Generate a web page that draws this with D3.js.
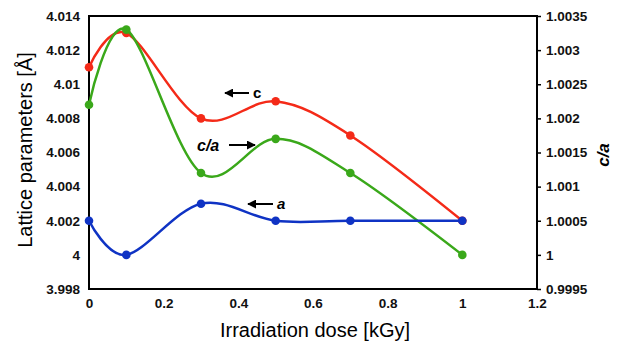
<!DOCTYPE html>
<html>
<head>
<meta charset="utf-8">
<script src="https://cdn.jsdelivr.net/npm/d3@7"></script>
<style>
  body { margin: 0; background: #fff; }
  text { font-family: "Liberation Sans", Arial, sans-serif; }
</style>
</head>
<body>
<div id="chart"></div>
<script>
// data
const dose = [0, 0.1, 0.3, 0.5, 0.7, 1];
const cValues = [4.011, 4.013, 4.008, 4.009, 4.007, 4.002];
const aValues = [4.002, 4.000, 4.003, 4.002, 4.002, 4.002];
const caValues = [1.0022, 1.0033, 1.0012, 1.0017, 1.0012, 1.0000];
const xTicks = [0, 0.2, 0.4, 0.6, 0.8, 1, 1.2];
const leftTicks = [3.998, 4, 4.002, 4.004, 4.006, 4.008, 4.01, 4.012, 4.014];
const rightTicks = [0.9995, 1, 1.0005, 1.001, 1.0015, 1.002, 1.0025, 1.003, 1.0035];

const width = 624, height = 343;
const margin = { top: 16, right: 87, bottom: 54, left: 89 };

const svg = d3.select('#chart').append('svg')
  .attr('width', width)
  .attr('height', height);

const x = d3.scaleLinear().domain([0, 1.2]).range([margin.left, width - margin.right]);
const yL = d3.scaleLinear().domain([3.998, 4.014]).range([height - margin.bottom, margin.top]);
const yR = d3.scaleLinear().domain([0.9995, 1.0035]).range([height - margin.bottom, margin.top]);

// frame
svg.append('rect')
  .attr('x', x(0)).attr('y', yL(4.014))
  .attr('width', x(1.2) - x(0)).attr('height', yL(3.998) - yL(4.014))
  .attr('fill', 'none').attr('stroke', '#000').attr('stroke-width', 2);

// axes
const fmt = d => String(d);
const xAxis = svg.append('g')
  .attr('transform', `translate(0,${height - margin.bottom})`)
  .call(d3.axisBottom(x).tickValues(xTicks).tickFormat(fmt).tickSize(0).tickPadding(9));
const leftAxis = svg.append('g')
  .attr('transform', `translate(${margin.left},0)`)
  .call(d3.axisLeft(yL).tickValues(leftTicks).tickFormat(fmt).tickSize(0).tickPadding(9));
const rightAxis = svg.append('g')
  .attr('transform', `translate(${width - margin.right},0)`)
  .call(d3.axisRight(yR).tickValues(rightTicks).tickFormat(fmt).tickSize(4).tickPadding(5));

[xAxis, leftAxis, rightAxis].forEach(g => {
  g.select('.domain').remove();
  g.selectAll('.tick line').attr('stroke', '#000').attr('stroke-width', 1.5);
  g.selectAll('.tick text')
    .attr('fill', '#111')
    .style('font-size', '13.5px')
    .style('font-weight', 'bold');
});

// series
const line = (scale) => d3.line()
  .x((d, i) => x(dose[i]))
  .y(d => scale(d))
  .curve(d3.curveCardinal.tension(0));

const series = [
  { values: cValues, scale: yL, color: '#f42a18' },
  { values: caValues, scale: yR, color: '#3aa81a' },
  { values: aValues, scale: yL, color: '#0f33c4' }
];

series.forEach(s => {
  svg.append('path')
    .datum(s.values)
    .attr('d', line(s.scale))
    .attr('fill', 'none')
    .attr('stroke', s.color)
    .attr('stroke-width', 2.5);
  svg.selectAll(null)
    .data(s.values)
    .enter().append('circle')
    .attr('cx', (d, i) => x(dose[i]))
    .attr('cy', d => s.scale(d))
    .attr('r', 4.3)
    .attr('fill', s.color);
});

// arrows for annotations
svg.append('defs').append('marker')
  .attr('id', 'head')
  .attr('viewBox', '0 0 10 10')
  .attr('refX', 9).attr('refY', 5)
  .attr('markerWidth', 4.5).attr('markerHeight', 4.5)
  .attr('orient', 'auto-start-reverse')
  .append('path').attr('d', 'M0,0 L10,5 L0,10 z').attr('fill', '#000');

function arrow(x1, x2, yy) {
  svg.append('line')
    .attr('x1', x1).attr('x2', x2).attr('y1', yy).attr('y2', yy)
    .attr('stroke', '#000').attr('stroke-width', 2)
    .attr('marker-end', 'url(#head)');
}
arrow(249, 225, 93);
arrow(229, 255, 145);
arrow(273, 248, 204);

svg.append('text').attr('x', 253).attr('y', 98)
  .style('font-size', '15px').style('font-weight', 'bold').text('c');
svg.append('text').attr('x', 197).attr('y', 151)
  .style('font-size', '16px').style('font-weight', 'bold').style('font-style', 'italic').text('c/a');
svg.append('text').attr('x', 277).attr('y', 209)
  .style('font-size', '15px').style('font-weight', 'bold').style('font-style', 'italic').text('a');

// axis titles
svg.append('text')
  .attr('transform', `translate(32,150) rotate(-90)`)
  .attr('text-anchor', 'middle')
  .style('font-size', '20px')
  .text('Lattice parameters [Å]');
svg.append('text')
  .attr('x', 315)
  .attr('y', 337)
  .attr('text-anchor', 'middle')
  .style('font-size', '20px')
  .text('Irradiation dose [kGy]');
svg.append('text')
  .attr('transform', `translate(609,155) rotate(-90)`)
  .attr('text-anchor', 'middle')
  .style('font-size', '17px').style('font-weight', 'bold').style('font-style', 'italic')
  .text('c/a');
</script>
</body>
</html>
